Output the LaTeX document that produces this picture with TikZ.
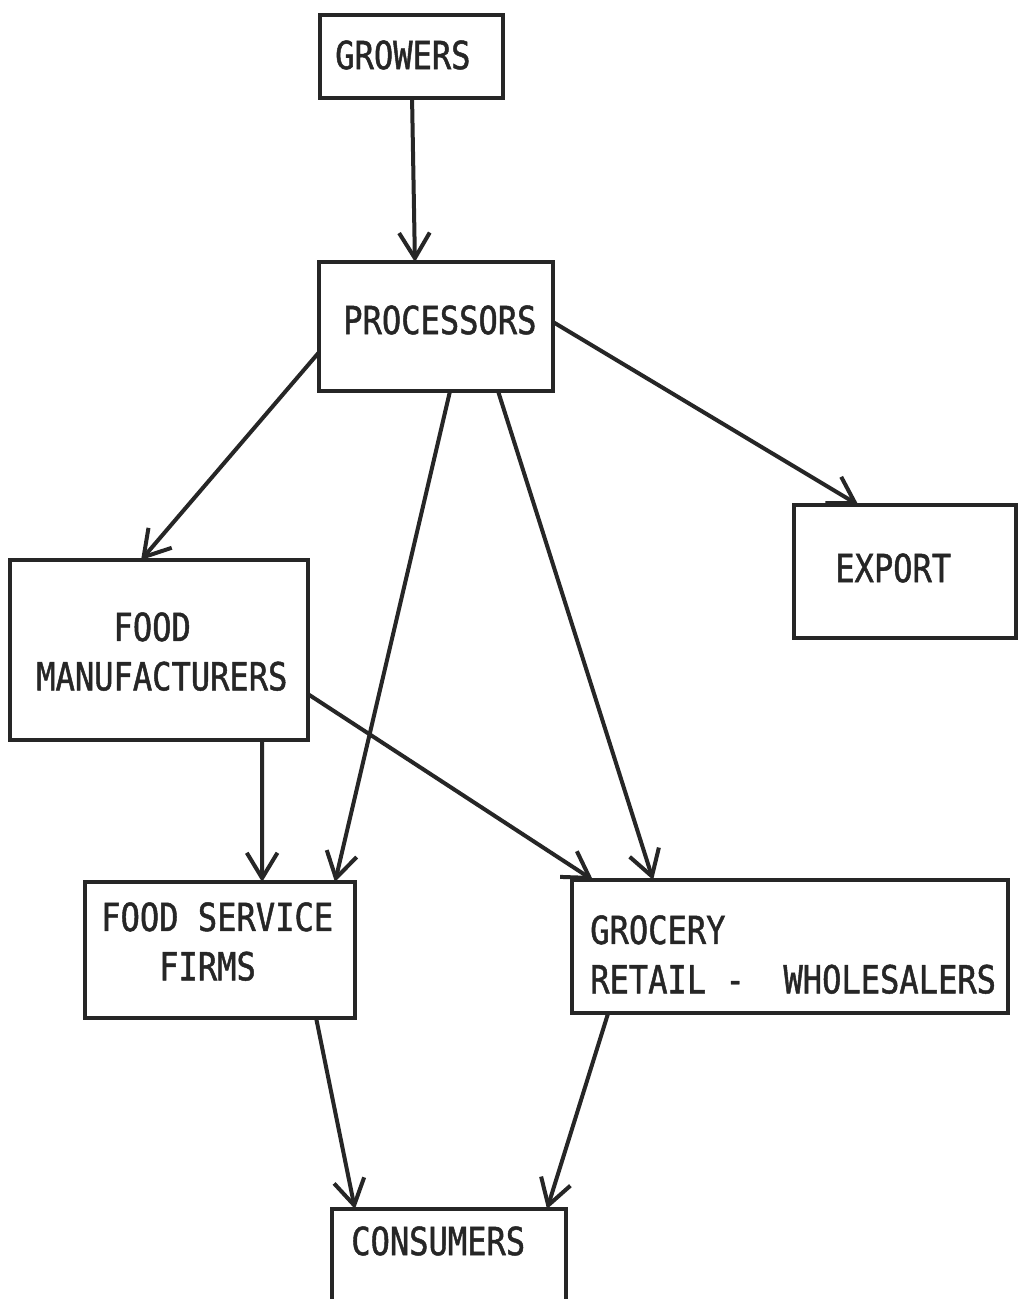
\documentclass[tikz,border=0pt]{standalone}
\usepackage{fontspec}
\newfontfamily\typo{DejaVu Sans Mono}[FakeStretch=0.83,FakeBold=1.2]
\usetikzlibrary{arrows.meta,calc}
\definecolor{ink}{RGB}{38,38,38}
\begin{document}
\begin{tikzpicture}[x=0.75pt,y=-0.75pt,
  box/.style={draw=ink, line width=3.6pt, rectangle, inner sep=0pt, outer sep=0pt},
  lbl/.style={font=\typo\fontsize{29pt}{37pt}\selectfont, text=ink, inner sep=0pt, align=left},
  arr/.style={draw=ink, line width=3pt, line cap=round, line join=round,
    -{Straight Barb[length=19pt,width=23pt,line join=miter]}}]
\useasboundingbox (0,0) rectangle (1018,1299);
\clip (0,0) rectangle (1018,1299);
\fill[white] (0,0) rectangle (1018,1299);

% boxes
\node[box, minimum width=183*0.75pt, minimum height=83*0.75pt]  (growers) at (411.5,56.5) {};
\node[box, minimum width=234*0.75pt, minimum height=129*0.75pt] (proc)    at (436,326.5) {};
\node[box, minimum width=222*0.75pt, minimum height=133*0.75pt] (export)  at (905,571.5) {};
\node[box, minimum width=298*0.75pt, minimum height=180*0.75pt] (fm)      at (159,650) {};
\node[box, minimum width=270*0.75pt, minimum height=136*0.75pt] (fs)      at (220,950) {};
\node[box, minimum width=436*0.75pt, minimum height=133*0.75pt] (groc)    at (790,946.5) {};
\node[box, minimum width=234*0.75pt, minimum height=111*0.75pt] (cons)    at (449,1264.5) {};

% texts
\node[lbl, anchor=west] (growersT) at (335,55) {GROWERS};
\node[lbl, anchor=west] (procT) at (343,320) {PROCESSORS};
\node[lbl, anchor=west] (exportT) at (835,568) {EXPORT};
\node[lbl, anchor=north west] (fmT) at (36,612) {\phantom{MANU}FOOD\\MANUFACTURERS};
\node[lbl, anchor=north west] (fsT) at (101,902) {FOOD SERVICE\\\phantom{FOO}FIRMS};
\node[lbl, anchor=north west] (grocT) at (590,915) {GROCERY\\RETAIL -\ \ WHOLESALERS};
\node[lbl, anchor=west] (consT) at (351,1241) {CONSUMERS};

% connectors
\draw[arr] ($(growers.south west)!0.503!(growers.south east)$) -- ($(proc.north west)!0.41!(proc.north east)$);
\draw[arr] ($(proc.north west)!0.70!(proc.south west)$) -- ($(fm.north west)!0.44!(fm.north east)$);
\draw[arr] ($(proc.north east)!0.465!(proc.south east)$) -- ($(export.north west)!0.29!(export.north east)$);
\draw[arr] ($(proc.south west)!0.56!(proc.south east)$) -- ($(fs.north west)!0.926!(fs.north east)$);
\draw[arr] ($(proc.south west)!0.765!(proc.south east)$) -- ($(groc.north west)!0.186!(groc.north east)$);
\draw[arr] ($(fm.south west)!0.846!(fm.south east)$) -- ($(fs.north west)!0.656!(fs.north east)$);
\draw[arr] ($(fm.north east)!0.745!(fm.south east)$) -- ($(groc.north west)!0.048!(groc.north east)$);
\draw[arr] ($(fs.south west)!0.856!(fs.south east)$) -- ($(cons.north west)!0.098!(cons.north east)$);
\draw[arr] ($(groc.south west)!0.083!(groc.south east)$) -- ($(cons.north west)!0.919!(cons.north east)$);
\end{tikzpicture}
\end{document}
